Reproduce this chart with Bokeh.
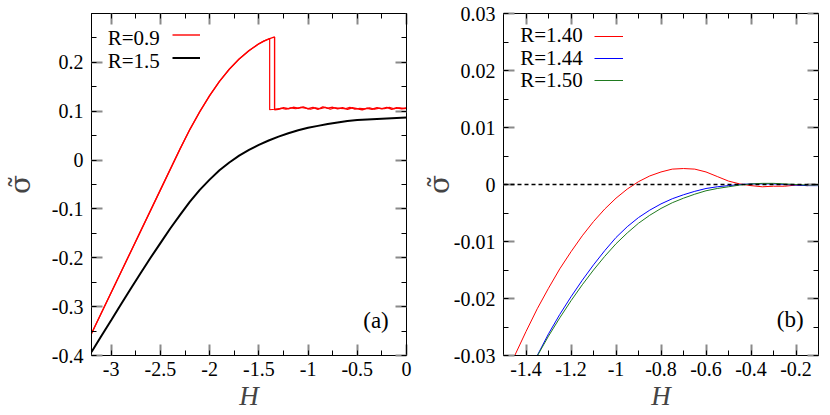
from bokeh.plotting import figure
from bokeh.models import (LinearAxis, SingleIntervalTicker, CustomJSTickFormatter, Range1d,
                          Legend, LegendItem, Label, Span)
from bokeh.layouts import row
from bokeh.embed import file_html
from bokeh.resources import INLINE

# ---------------- data: panel (a) ----------------
H_A_RISE = [-3.2, -3.1, -3.0, -2.9, -2.8, -2.7, -2.6, -2.5, -2.4, -2.3, -2.2, -2.1, -2.0,
            -1.9, -1.8, -1.7, -1.6, -1.5, -1.45, -1.39, -1.34]
S_A_RISE = [-0.355, -0.313, -0.271, -0.229, -0.187, -0.145, -0.103, -0.061, -0.019, 0.023,
            0.063, 0.099, 0.132, 0.161, 0.186, 0.207, 0.224, 0.238, 0.2434, 0.2487, 0.252]
H_A_PLAT1 = [-1.34, -1.30, -1.25, -1.20, -1.15, -1.10, -1.05, -1.00, -0.95, -0.90, -0.85, -0.80,
             -0.75, -0.70, -0.65, -0.60, -0.55, -0.50, -0.45, -0.40, -0.35, -0.30, -0.25,
             -0.20, -0.15, -0.10, -0.05, 0.00]
S_A_PLAT1 = [0.103, 0.104, 0.107, 0.105, 0.108, 0.106, 0.109, 0.105, 0.108, 0.104, 0.109, 0.106,
             0.108, 0.105, 0.107, 0.104, 0.107, 0.105, 0.103, 0.106, 0.104, 0.107, 0.105,
             0.108, 0.104, 0.107, 0.105, 0.106]
H_A_PLAT2 = [-1.39, -1.34, -1.275, -1.225, -1.175, -1.125, -1.075, -1.025, -0.975, -0.925, -0.875,
             -0.825, -0.775, -0.725, -0.675, -0.625, -0.575, -0.525, -0.475, -0.425, -0.375,
             -0.325, -0.275, -0.225, -0.175, -0.125, -0.075, -0.025, 0.0]
S_A_PLAT2 = [0.103, 0.104, 0.106, 0.104, 0.107, 0.105, 0.108, 0.106, 0.104, 0.107, 0.105,
             0.108, 0.104, 0.107, 0.106, 0.105, 0.108, 0.104, 0.106, 0.105, 0.107,
             0.104, 0.106, 0.105, 0.108, 0.105, 0.107, 0.106, 0.107]
H_A_BLACK = [-3.2, -3.1, -3.0, -2.9, -2.8, -2.7, -2.6, -2.5, -2.4, -2.3, -2.2, -2.1, -2.0, -1.9,
             -1.8, -1.7, -1.6, -1.5, -1.4, -1.3, -1.2, -1.1, -1.0, -0.9, -0.8, -0.7, -0.6,
             -0.5, -0.4, -0.3, -0.2, -0.1, 0.0]
S_A_BLACK = [-0.393, -0.360, -0.328, -0.295, -0.263, -0.231, -0.200, -0.170, -0.140, -0.112,
             -0.085, -0.061, -0.040, -0.021, -0.005, 0.009, 0.021, 0.031, 0.040, 0.048, 0.055,
             0.061, 0.066, 0.070, 0.074, 0.077, 0.080, 0.082, 0.083, 0.084, 0.085, 0.086, 0.087]
LABELS_A = ["R=0.9", "R=1.5"]

# ---------------- data: panel (b) ----------------
H_B_RED = [-1.50, -1.45, -1.40, -1.35, -1.30, -1.25, -1.20, -1.15, -1.10, -1.05, -1.00, -0.95,
           -0.90, -0.85, -0.80, -0.75, -0.70, -0.65, -0.60, -0.55, -0.50, -0.45, -0.40,
           -0.35, -0.30, -0.25, -0.20, -0.15, -0.10]
S_B_RED = [-0.0345, -0.0300, -0.0258, -0.0218, -0.0182, -0.0148, -0.0118, -0.0090, -0.0065,
           -0.0043, -0.0024, -0.0008, 0.0005, 0.0015, 0.0022, 0.0027, 0.0028, 0.0027, 0.0022,
           0.0014, 0.0006, 0.0001, -0.0002, -0.0004, -0.0003, -0.0003, -0.0001, -0.0002, 0.0000]
H_B = [-1.40, -1.35, -1.30, -1.25, -1.20, -1.15, -1.10, -1.05, -1.00, -0.95, -0.90, -0.85,
       -0.80, -0.75, -0.70, -0.65, -0.60, -0.55, -0.50, -0.45, -0.40, -0.35, -0.30, -0.25,
       -0.20, -0.15, -0.10]
S_B_BLUE = [-0.0345, -0.0300, -0.0262, -0.0228, -0.0197, -0.0168, -0.0141, -0.0116, -0.0093,
            -0.0074, -0.0058, -0.0045, -0.0034, -0.0025, -0.0018, -0.0012, -0.0007, -0.0004,
            -0.0002, 0.0000, 0.0001, 0.0001, 0.0001, 0.0000, -0.0001, -0.0002, -0.0002]
S_B_GREEN = [-0.0345, -0.0301, -0.0266, -0.0234, -0.0204, -0.0176, -0.0150, -0.0126, -0.0104,
             -0.0085, -0.0068, -0.0054, -0.0042, -0.0032, -0.0024, -0.0017, -0.0011, -0.0007,
             -0.0004, -0.0001, 0.0001, 0.0002, 0.0002, 0.0001, 0.0000, -0.0001, -0.0001]
LABELS_B = ["R=1.40", "R=1.44", "R=1.50"]

FONT = "Liberation Serif"
SIGMA_FONT = "DejaVu Serif"
FMT = "return parseFloat(tick.toFixed(4)).toString();"
FMT_EMPTY = "return '';"


def make_fig(xr, yr, xint, yint, width, bl, br, ylabel_standoff):
    p = figure(width=width, height=413, output_backend="svg", toolbar_location=None,
               x_range=Range1d(*xr), y_range=Range1d(*yr),
               min_border_left=bl, min_border_right=br, min_border_top=13, min_border_bottom=58,
               x_axis_type=None, y_axis_type=None)
    p.outline_line_color = "black"
    p.background_fill_color = "white"
    p.border_fill_color = "white"
    for side, interval in (("below", xint), ("above", xint), ("left", yint), ("right", yint)):
        mirror = side in ("above", "right")
        ax = LinearAxis(ticker=SingleIntervalTicker(interval=interval, num_minor_ticks=2),
                        formatter=CustomJSTickFormatter(code=FMT_EMPTY if mirror else FMT))
        ax.axis_line_color = "black"
        ax.major_tick_in = 11
        ax.major_tick_out = 0
        ax.minor_tick_in = 5
        ax.minor_tick_out = 0
        ax.major_tick_line_color = "#8a8a8a"
        ax.major_tick_line_width = 2
        ax.minor_tick_line_color = "black"
        ax.major_label_text_font = FONT
        ax.major_label_text_color = "black"
        ax.major_label_text_font_size = "20px"
        if mirror:
            ax.major_label_standoff = 0
        elif side == "below":
            ax.major_label_standoff = 6
            ax.axis_label = "H"
            ax.axis_label_text_font = FONT
            ax.axis_label_text_font_style = "italic"
            ax.axis_label_text_font_size = "27px"
            ax.axis_label_standoff = 2
        else:
            ax.major_label_standoff = 8
            ax.axis_label = "σ\u0303"
            ax.axis_label_text_font = SIGMA_FONT
            ax.axis_label_text_font_style = "normal"
            ax.axis_label_text_font_size = "28px"
            ax.axis_label_standoff = ylabel_standoff
        p.add_layout(ax, side)
    return p


def add_legend(p, renderers, loc, gw, gh):
    items = [LegendItem(label=lab, renderers=[r]) for lab, r in renderers]
    lg = Legend(items=items, location=loc, glyph_width=gw, glyph_height=gh,
                label_text_font_size="8px", label_text_alpha=0, label_standoff=0,
                label_width=0, label_height=gh, padding=0, margin=0, spacing=0,
                border_line_color=None, background_fill_alpha=0)
    p.add_layout(lg)


# ---------------- panel (a) ----------------
pa = make_fig((-3.2, 0.0), (-0.4, 0.3), 0.5, 0.1, 416, 91, 10, 12)
ra1 = pa.line(H_A_RISE + H_A_PLAT1, S_A_RISE + S_A_PLAT1, line_color="red", line_width=1.4)
pa.line(H_A_RISE[:-1] + H_A_PLAT2, S_A_RISE[:-1] + S_A_PLAT2, line_color="red", line_width=1.2)
rb = pa.line(H_A_BLACK, S_A_BLACK, line_color="black", line_width=2)
add_legend(pa, [(LABELS_A[0], ra1), (LABELS_A[1], rb)], (81, 286), 28, 23)
for lab, yy in zip(LABELS_A, (0.2501, 0.2031)):
    pa.add_layout(Label(x=-3.035, y=yy, text=lab, text_font=FONT, text_font_size="21px",
                        text_baseline="middle", text_align="left", text_color="black"))
pa.add_layout(Label(x=-0.31, y=-0.329, text="(a)", text_font=FONT, text_font_size="23px",
                    text_baseline="middle", text_align="center", text_color="black"))

# ---------------- panel (b) ----------------
pb = make_fig((-1.5, -0.1), (-0.03, 0.03), 0.2, 0.01, 410, 87, 8, -5)
r1 = pb.line(H_B_RED, S_B_RED, line_color="red", line_width=1)
r2 = pb.line(H_B, S_B_BLUE, line_color="blue", line_width=1)
r3 = pb.line(H_B, S_B_GREEN, line_color="#1f7a1f", line_width=1)
pb.add_layout(Span(location=0, dimension="width", line_color="black", line_width=1.5,
                   line_dash="4 3"))
add_legend(pb, [(LABELS_B[0], r1), (LABELS_B[1], r2), (LABELS_B[2], r3)], (91, 264), 29, 22)
for lab, yy in zip(LABELS_B, (0.02625, 0.02214, 0.01839)):
    pb.add_layout(Label(x=-1.426, y=yy, text=lab, text_font=FONT, text_font_size="21px",
                        text_baseline="middle", text_align="left", text_color="black"))
pb.add_layout(Label(x=-0.226, y=-0.02375, text="(b)", text_font=FONT, text_font_size="23px",
                    text_baseline="middle", text_align="center", text_color="black"))

layout = row(pa, pb)
open("out.html", "w").write(file_html(layout, INLINE))
